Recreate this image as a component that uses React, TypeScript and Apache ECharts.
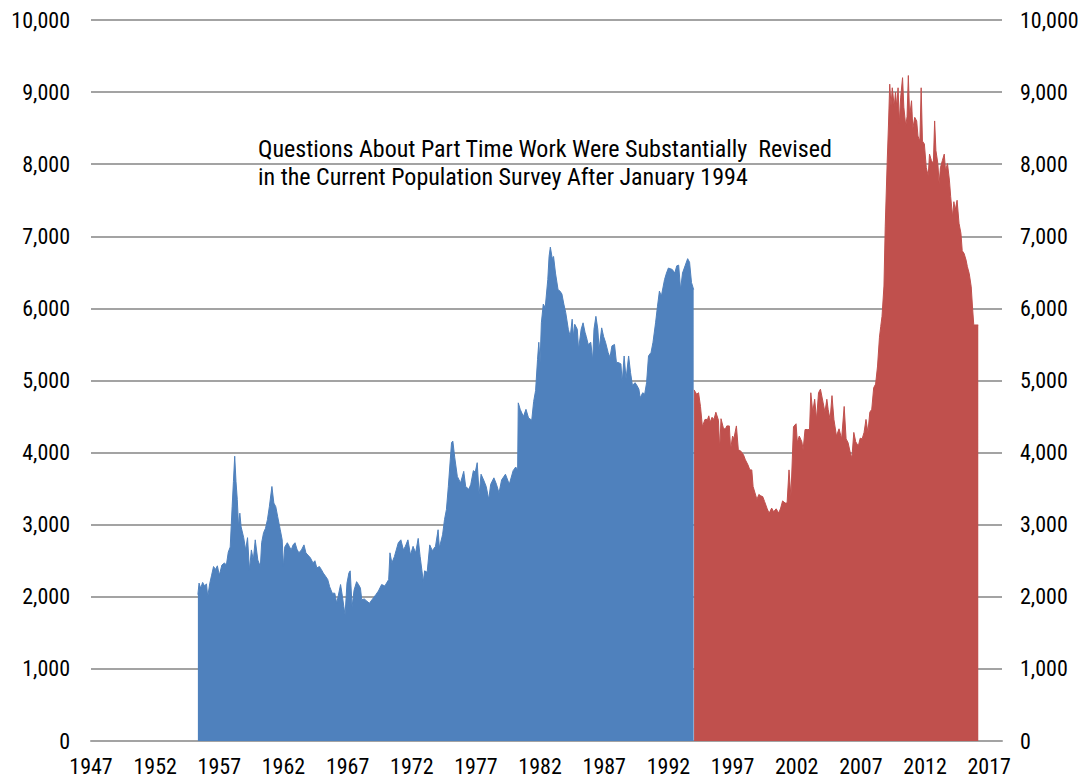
import React, { useEffect, useRef } from "react";
import * as echarts from "echarts";

const FONT = "'Liberation Sans Narrow', 'Arial Narrow', 'Roboto Condensed', sans-serif";

// Old survey (thousands), year as decimal
const oldYears = [
  1955.33, 1955.42, 1955.55, 1955.7, 1955.85, 1956.0, 1956.1, 1956.25, 1956.4, 1956.55, 1956.7, 1956.85,
  1957.0, 1957.2, 1957.4, 1957.55, 1957.7, 1957.85, 1958.0, 1958.1, 1958.2, 1958.3, 1958.4, 1958.5,
  1958.6, 1958.7, 1958.9, 1959.05, 1959.2, 1959.35, 1959.5, 1959.65, 1959.8, 1960.0, 1960.2, 1960.3,
  1960.45, 1960.6, 1960.75, 1960.9, 1961.1, 1961.25, 1961.4, 1961.55, 1961.75, 1961.9, 1962.0, 1962.1,
  1962.3, 1962.45, 1962.6, 1962.75, 1962.9, 1963.05, 1963.2, 1963.4, 1963.6, 1963.75, 1963.9, 1964.1,
  1964.3, 1964.45, 1964.6, 1964.8, 1964.95, 1965.1, 1965.3, 1965.45, 1965.6, 1965.8, 1966.0, 1966.15,
  1966.45, 1966.6, 1966.7, 1966.8, 1966.95, 1967.1, 1967.2, 1967.35, 1967.5, 1967.7, 1967.85, 1968.0,
  1968.1, 1968.3, 1968.5, 1968.7, 1968.9, 1969.2, 1969.4, 1969.65, 1969.9, 1970.2, 1970.3, 1970.45,
  1970.65, 1970.95, 1971.15, 1971.35, 1971.5, 1971.7, 1971.9, 1972.1, 1972.3, 1972.5, 1972.65, 1972.9,
  1973.0, 1973.2, 1973.4, 1973.6, 1973.85, 1974.05, 1974.15, 1974.4, 1974.55, 1974.7, 1974.85, 1975.0,
  1975.1, 1975.2, 1975.35, 1975.55, 1975.8, 1976.05, 1976.2, 1976.45, 1976.6, 1976.8, 1976.95, 1977.1,
  1977.25, 1977.4, 1977.6, 1977.8, 1978.0, 1978.15, 1978.4, 1978.6, 1978.8, 1979.0, 1979.3, 1979.6,
  1979.9, 1980.1, 1980.25, 1980.3, 1980.45, 1980.7, 1980.9, 1981.1, 1981.35, 1981.5, 1981.65, 1981.8,
  1981.9, 1982.0, 1982.1, 1982.25, 1982.4, 1982.6, 1982.7, 1982.8, 1982.95, 1983.05, 1983.2, 1983.4,
  1983.55, 1983.7, 1983.85, 1984.0, 1984.2, 1984.35, 1984.5, 1984.6, 1984.7, 1984.9, 1985.0, 1985.2,
  1985.35, 1985.5, 1985.6, 1985.75, 1985.95, 1986.1, 1986.2, 1986.35, 1986.5, 1986.6, 1986.8, 1986.95,
  1987.1, 1987.3, 1987.45, 1987.6, 1987.8, 1987.95, 1988.1, 1988.3, 1988.4, 1988.55, 1988.7, 1988.9,
  1989.05, 1989.2, 1989.4, 1989.55, 1989.7, 1989.8, 1990.0, 1990.15, 1990.3, 1990.45, 1990.65, 1990.8,
  1991.0, 1991.15, 1991.3, 1991.45, 1991.7, 1991.85, 1992.0, 1992.3, 1992.5, 1992.65, 1992.8, 1992.95,
  1993.1, 1993.3, 1993.5, 1993.65, 1993.8, 1993.97,
];
const oldValues = [
  2030, 2190, 2120, 2200, 2150, 2180, 2000, 2180, 2300, 2420, 2380, 2430,
  2300, 2440, 2470, 2440, 2620, 2690, 3250, 3600, 3950, 3600, 3350, 2970,
  3160, 2970, 2820, 2650, 2820, 2370, 2650, 2510, 2790, 2510, 2420, 2750,
  2890, 2950, 3070, 3250, 3530, 3300, 3250, 3110, 2930, 2790, 2420, 2690,
  2750, 2700, 2650, 2720, 2750, 2660, 2610, 2650, 2720, 2610, 2580, 2540,
  2470, 2500, 2400, 2420, 2380, 2330, 2280, 2240, 2140, 2050, 2050, 1910,
  2170, 2000, 1870, 1750, 2190, 2330, 2360, 1860, 2090, 2210, 2170, 2120,
  1960, 1970, 1940, 1910, 1960, 2030, 2080, 2170, 2150, 2240, 2610, 2470,
  2560, 2750, 2790, 2650, 2700, 2790, 2580, 2700, 2610, 2810, 2560, 2210,
  2360, 2340, 2720, 2640, 2700, 2930, 2680, 2860, 3070, 3210, 3530, 3900,
  4140, 4160, 3930, 3670, 3580, 3740, 3530, 3490, 3560, 3750, 3730, 3860,
  3420, 3700, 3620, 3530, 3350, 3560, 3650, 3560, 3440, 3620, 3700, 3560,
  3750, 3800, 3760, 4690, 4600, 4500, 4600, 4480, 4450, 4710, 4860, 5290,
  5530, 5250, 5800, 6060, 6010, 6400, 6720, 6850, 6690, 6720, 6490, 6260,
  6240, 6200, 6060, 5940, 5710, 5610, 5850, 5610, 5780, 5710, 5430, 5710,
  5800, 5670, 5610, 5500, 5530, 5280, 5710, 5890, 5710, 5430, 5730, 5610,
  5530, 5390, 5320, 5480, 5500, 5250, 5250, 5230, 4970, 5340, 5020, 5340,
  5110, 4930, 4970, 4930, 4880, 4760, 4830, 4810, 4970, 5340, 5390, 5530,
  5800, 6030, 6240, 6170, 6400, 6490, 6560, 6540, 6490, 6590, 6600, 6260,
  6490, 6590, 6690, 6640, 6360, 6260,
];

// New survey (thousands)
const newYears = [
  1994.0, 1994.2, 1994.35, 1994.5, 1994.65, 1994.85, 1995.05, 1995.15, 1995.25, 1995.4, 1995.55, 1995.7,
  1995.9, 1996.0, 1996.1, 1996.3, 1996.45, 1996.55, 1996.75, 1996.85, 1997.0, 1997.1, 1997.3, 1997.45,
  1997.65, 1997.85, 1998.0, 1998.2, 1998.35, 1998.5, 1998.6, 1998.75, 1998.9, 1999.05, 1999.2, 1999.35,
  1999.5, 1999.7, 1999.85, 2000.05, 2000.2, 2000.4, 2000.6, 2000.75, 2000.9, 2001.1, 2001.25, 2001.4,
  2001.55, 2001.75, 2001.95, 2002.05, 2002.2, 2002.4, 2002.5, 2002.65, 2002.85, 2003.0, 2003.1, 2003.25,
  2003.4, 2003.55, 2003.7, 2003.85, 2004.05, 2004.2, 2004.35, 2004.45, 2004.6, 2004.75, 2004.9, 2005.1,
  2005.3, 2005.5, 2005.7, 2005.85, 2006.0, 2006.15, 2006.3, 2006.45, 2006.6, 2006.8, 2006.95, 2007.1,
  2007.25, 2007.4, 2007.55, 2007.7, 2007.85, 2008.0, 2008.15, 2008.3, 2008.45, 2008.55, 2008.65, 2008.8,
  2008.9, 2009.05, 2009.15, 2009.25, 2009.35, 2009.45, 2009.6, 2009.7, 2009.8, 2009.9, 2010.0, 2010.1,
  2010.25, 2010.35, 2010.5, 2010.6, 2010.7, 2010.8, 2010.95, 2011.05, 2011.2, 2011.35, 2011.45, 2011.6,
  2011.7, 2011.8, 2011.95, 2012.1, 2012.25, 2012.35, 2012.5, 2012.65, 2012.75, 2012.85, 2013.0, 2013.1,
  2013.2, 2013.35, 2013.5, 2013.6, 2013.75, 2013.9, 2014.0, 2014.15, 2014.25, 2014.35, 2014.5, 2014.65,
  2014.8, 2014.9, 2015.05, 2015.2, 2015.3, 2015.45, 2015.6, 2015.7, 2015.8, 2016.15,
];
const newValues = [
  4870, 4810, 4830, 4640, 4360, 4460, 4460, 4510, 4420, 4490, 4460, 4560,
  4450, 4040, 4470, 4330, 4330, 4370, 4370, 4040, 4230, 4190, 4370, 4040,
  4020, 3970, 3900, 3830, 3760, 3760, 3530, 3440, 3350, 3420, 3400, 3390,
  3320, 3220, 3160, 3230, 3180, 3220, 3160, 3230, 3330, 3300, 3300, 3760,
  3390, 4360, 4400, 4140, 4230, 4150, 4040, 4320, 4320, 4320, 4830, 4560,
  4740, 4460, 4830, 4880, 4700, 4560, 4740, 4600, 4460, 4790, 4460, 4230,
  4330, 4190, 4640, 4190, 4140, 4020, 3920, 4280, 4150, 4090, 4200, 4190,
  4280, 4460, 4280, 4560, 4600, 4900, 4950, 5200, 5600, 5750, 5890, 6310,
  7140, 8020, 8530, 9110, 8810, 9060, 8800, 9000, 8790, 9060, 8570, 8920,
  9200, 8790, 8530, 8660, 9230, 8660, 8880, 8490, 8650, 8600, 8390, 8320,
  9060, 8320, 8280, 7950, 7840, 8140, 8050, 8010, 8600, 8190, 8010, 7730,
  7950, 8050, 8140, 7910, 8010, 7780, 7550, 7270, 7480, 7360, 7500, 7180,
  7040, 6800, 6760, 6670, 6580, 6480, 6300, 6020, 5770, 5770,
];

const xMin = 1947;
const xMax = 2018;
const xStep = 5;
const yMax = 10000;
const yStep = 1000;

const BLUE = "#4f81bd";
const RED = "#c0504d";
const GRID = "#a3a3a3";

export default function App() {
  const ref = useRef<HTMLDivElement>(null);
  useEffect(() => {
    document.body.style.margin = "0";
    const chart = echarts.init(ref.current!, null, { renderer: "svg" });
    const oldData = oldYears.map((y, i) => [y, oldValues[i]]);
    const newData = newYears.map((y, i) => [y, newValues[i]]);
    const fmt = (v: number) => v.toLocaleString("en-US");
    const note = (text: string, x: number, y: number, size: number, fill: string, align: string) => ({
      type: "text",
      x,
      y,
      style: {
        text,
        fontFamily: FONT,
        fontSize: size,
        fill,
        align,
        verticalAlign: "middle",
        textAlign: align,
        textVerticalAlign: "middle",
      },
    });
    chart.setOption({
      animation: false,
      backgroundColor: "#ffffff",
      grid: { left: 91, right: 86, top: 20, bottom: 43, containLabel: false },
      xAxis: {
        type: "value",
        min: xMin,
        max: xMax,
        interval: xStep,
        axisLine: { show: true, lineStyle: { color: GRID, width: 2 } },
        axisTick: { show: false },
        splitLine: { show: false },
        axisLabel: {
          color: "#000",
          fontFamily: FONT,
          fontSize: 22,
          margin: 14,
          formatter: (v: number) => ((v - xMin) % xStep === 0 ? String(v) : ""),
        },
      },
      yAxis: [
        {
          type: "value",
          min: 0,
          max: yMax,
          interval: yStep,
          position: "left",
          axisLine: { show: false },
          axisTick: { show: false },
          splitLine: { show: true, lineStyle: { color: GRID, width: 2 } },
          axisLabel: { color: "#000", fontFamily: FONT, fontSize: 22, margin: 21, formatter: fmt },
        },
        {
          type: "value",
          min: 0,
          max: yMax,
          interval: yStep,
          position: "right",
          axisLine: { show: false },
          axisTick: { show: false },
          splitLine: { show: false },
          axisLabel: { color: "#000", fontFamily: FONT, fontSize: 22, margin: 18, formatter: fmt },
        },
      ],
      series: [
        {
          name: "Old Survey",
          type: "line",
          data: oldData,
          showSymbol: false,
          symbol: "none",
          lineStyle: { width: 1, color: BLUE },
          itemStyle: { color: BLUE },
          areaStyle: { color: BLUE, opacity: 1 },
        },
        {
          name: "New Survey",
          type: "line",
          data: newData,
          showSymbol: false,
          symbol: "none",
          lineStyle: { width: 1, color: RED },
          itemStyle: { color: RED },
          areaStyle: { color: RED, opacity: 1 },
        },
      ],
      graphic: [
        note("Questions About Part Time Work Were Substantially  Revised", 258, 149, 24, "#000", "left"),
        note("in the Current Population Survey After January 1994", 258, 177, 24, "#000", "left"),
        note("Old Survey", 625, 605, 22, "#fff", "center"),
        note("New Survey", 816, 605, 22, "#fff", "center"),
      ],
    });
    return () => chart.dispose();
  }, []);
  return <div ref={ref} style={{ width: 1088, height: 784 }} />;
}
